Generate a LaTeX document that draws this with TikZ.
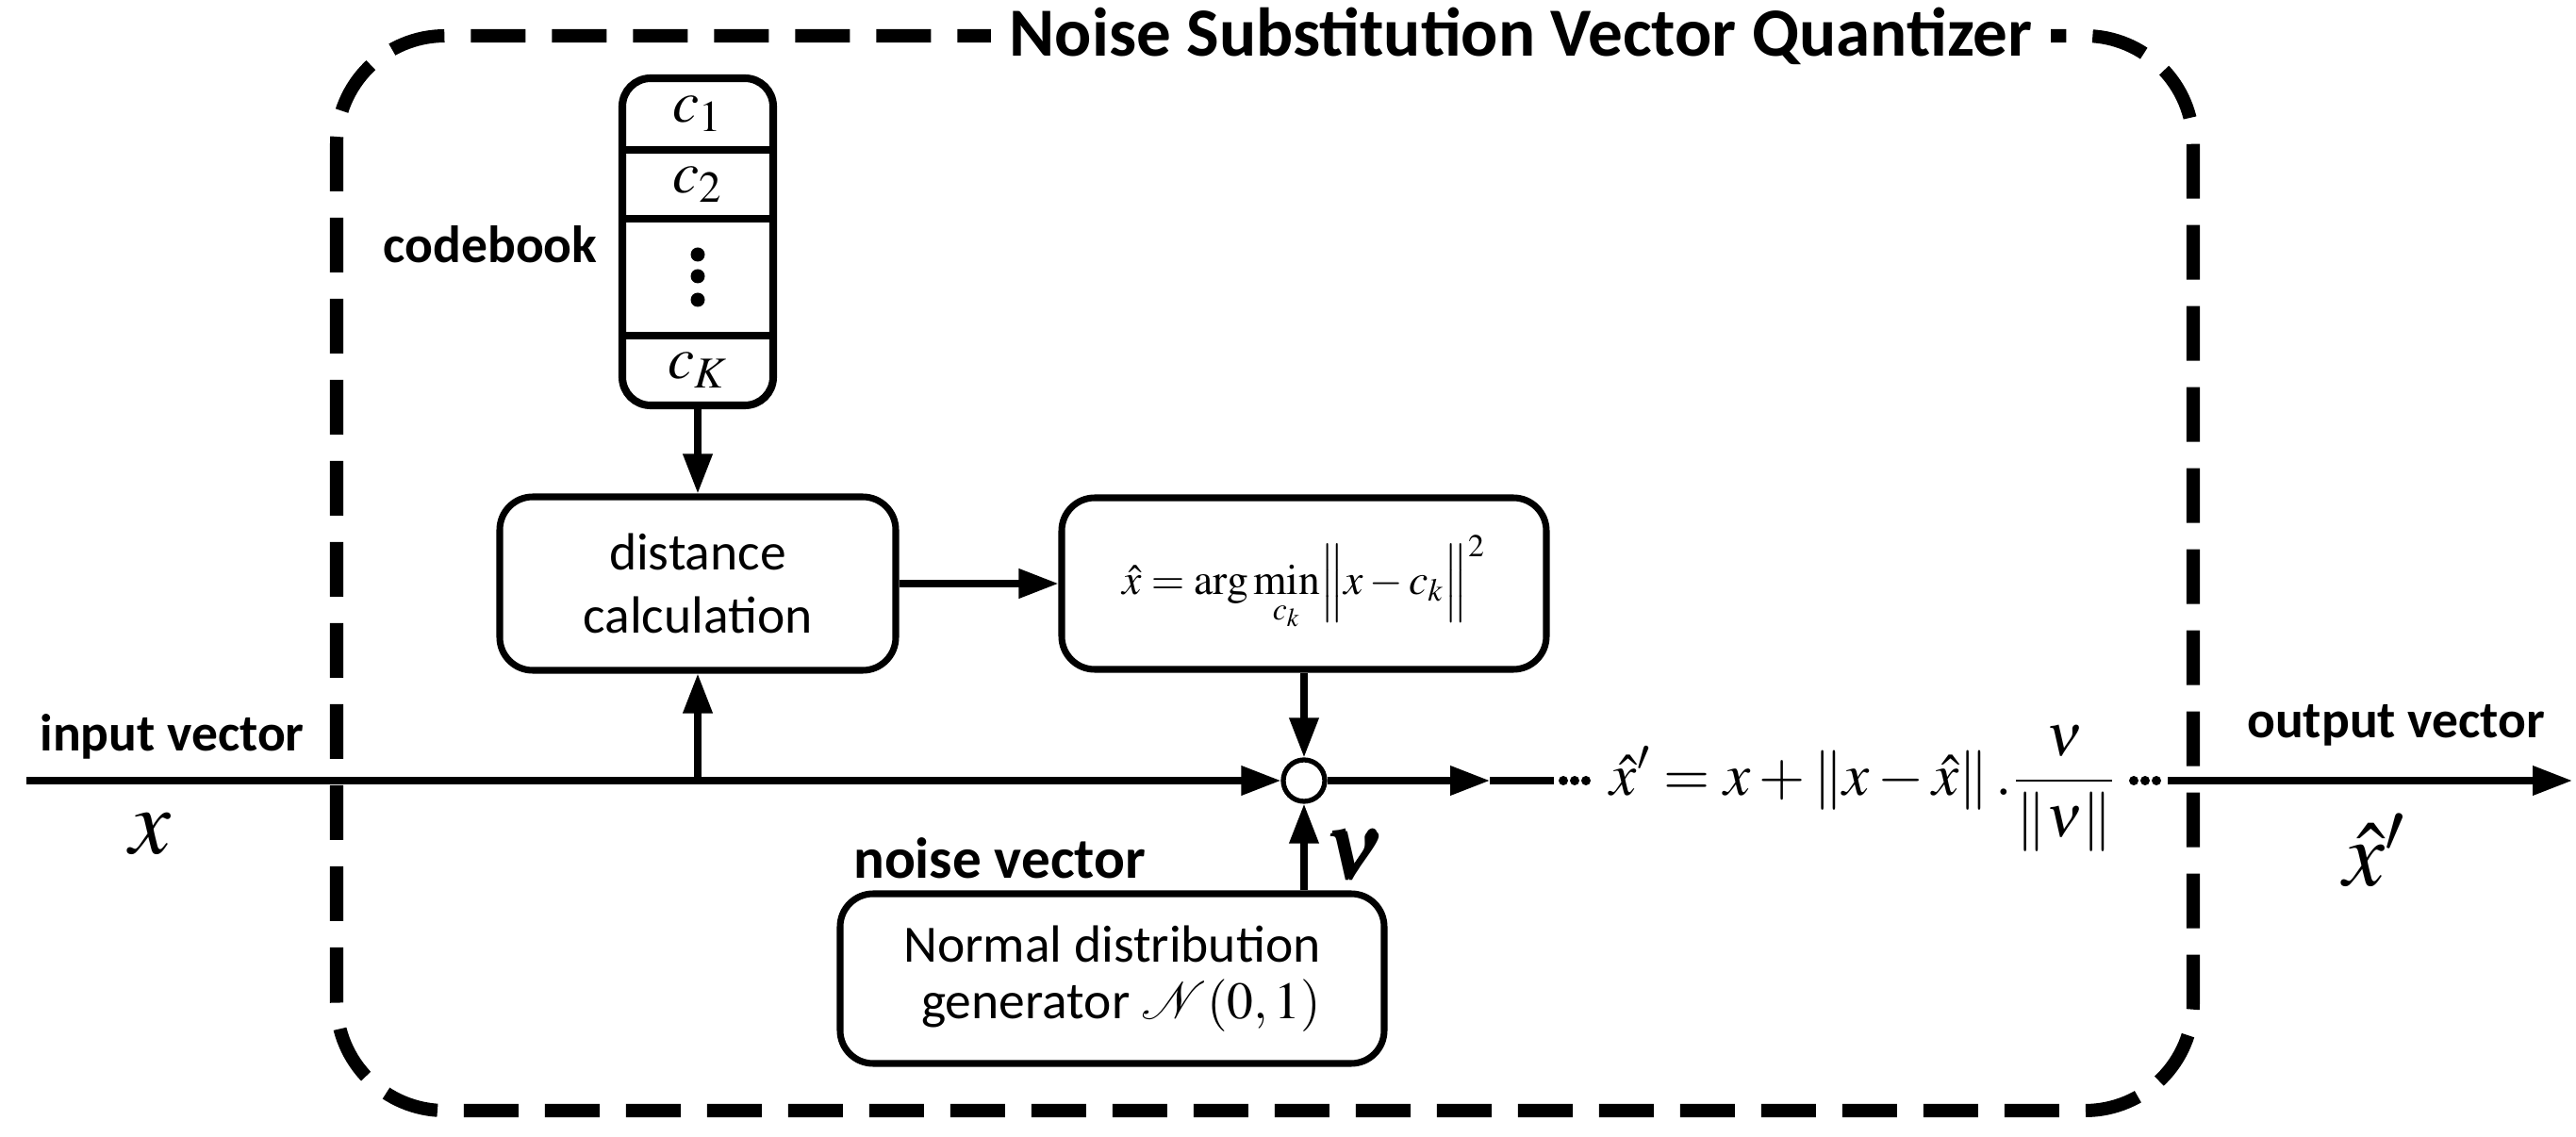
\documentclass[tikz,border=0pt]{standalone}
\usepackage{amsmath}
\usepackage{mathptmx}
\usepackage{bm}
\usepackage[no-math]{fontspec}
\setmainfont{Carlito}
\usetikzlibrary{arrows.meta,calc}
\tikzset{box/.style={draw,line width=2pt,rounded corners=3.5mm,align=center,
  font=\fontsize{15.8}{19}\selectfont},
  arrow/.style={-{Triangle[length=4.2mm,width=3mm]},line width=2pt},
  lbl/.style={font=\bfseries\fontsize{15.8}{19}\selectfont},
  bigmath/.style={font=\fontsize{28}{32}\selectfont}}

\begin{document}
\begin{tikzpicture}[x=1cm,y=1cm]
\useasboundingbox (0,0) rectangle (27.32,12.06);
% quantizer frame
\draw[line width=4pt,dash pattern=on 5.8mm off 2.8mm,rounded corners=11.5mm]
  (3.57,0.28) rectangle (23.26,11.68);
\node[fill=white,inner xsep=2mm,font=\bfseries\fontsize{20.8}{24}\selectfont] (title)
  at (16.13,11.68) {Noise Substitution Vector Quantizer};
% codebook
\node[draw,line width=2.3pt,rounded corners=3mm,minimum width=1.6cm,
  minimum height=3.47cm] (cb) at (7.40,9.495) {};
\foreach \yy in {10.47,9.74,8.50}{\draw[line width=2.3pt] (6.60,\yy) -- (8.20,\yy);}
\begin{scope}[font=\fontsize{18}{20}\selectfont]
\node (c1) at (7.40,10.85) {$c_1$};
\node (c2) at (7.40,10.105) {$c_2$};
\node (cK) at (7.40,8.13) {$c_K$};
\end{scope}
\foreach \yy in {9.36,9.13,8.88}{\fill (7.40,\yy) circle (0.075);}
\node[lbl] (cbl) at (5.20,9.47) {codebook};
% blocks
\node[box,minimum width=4.2cm,minimum height=1.84cm] (dist) at (7.40,5.87)
  {distance\\calculation};
\node[box,minimum width=5.14cm,minimum height=1.82cm,font=\fontsize{13}{16}\selectfont]
  (amin) at (13.83,5.87)
  {$\displaystyle\hat{x}=\operatorname{arg}\min_{c_k}\Bigl\|x-c_k\Bigr\|^2$};
\node[draw,circle,line width=1.5pt,minimum size=0.44cm,inner sep=0pt] (sum) at (13.83,3.78) {};
\node[box,minimum width=5.77cm,minimum height=1.80cm,align=right,
  font=\fontsize{15.8}{17}\selectfont] (gen) at (11.795,1.68)
  {Normal distribution\\generator $\mathcal{N}(0,1)$};
\node[lbl,font=\bfseries\fontsize{17.4}{21}\selectfont,anchor=base] (nl) at (10.60,2.74) {noise vector};
\node[bigmath] (nu) at (14.36,2.99) {$\bm{\nu}$};
% input side
\coordinate (in) at (0.28,3.78);
\coordinate (br) at (7.40,3.78);
\node[lbl,anchor=base] (il) at (1.825,4.09) {input vector};
\node[bigmath] (xi) at (1.59,3.21) {$x$};
\draw[arrow] (in) -- (sum);
\draw[arrow] (br) -- (br |- dist.south);
\draw[arrow] (cb.south) -- (cb.south |- dist.north);
\draw[arrow] (dist) -- (amin);
\draw[arrow] (amin) -- (sum);
\draw[arrow] (gen.north -| sum) -- (sum);
% output side
\coordinate (mid) at (15.80,3.78);
\coordinate (ld) at (16.48,3.78);
\draw[arrow] (sum) -- (mid);
\draw[line width=2pt] (mid) -- (ld);
\foreach \xx in {16.58,16.70,16.82}{\fill (\xx,3.78) circle (0.05);}
\node[anchor=base,font=\fontsize{18}{22}\selectfont] (upd) at (19.76,3.62)
  {$\displaystyle\hat{x}'=x+\left\|x-\hat{x}\right\|.\frac{\nu}{\left\|\nu\right\|}$};
\foreach \xx in {22.63,22.75,22.87}{\fill (\xx,3.78) circle (0.05);}
\coordinate (ro) at (22.99,3.78);
\coordinate (out) at (27.28,3.78);
\draw[arrow] (ro) -- (out);
\node[lbl,anchor=base] (ol) at (25.41,4.23) {output vector};
\node[bigmath] (xo) at (25.18,3.04) {$\hat{x}'$};
\end{tikzpicture}
\end{document}
